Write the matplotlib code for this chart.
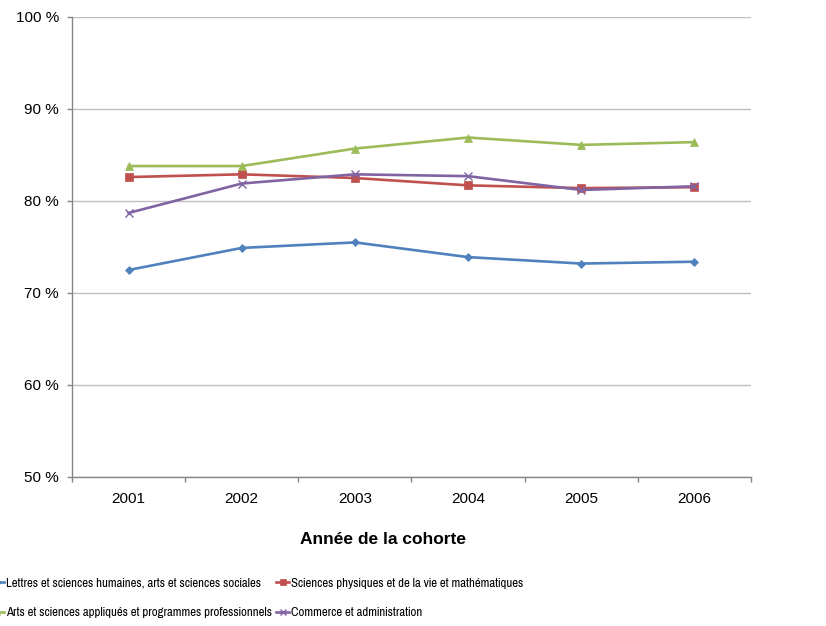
import matplotlib
matplotlib.use("Agg")
import matplotlib.pyplot as plt
from matplotlib.ticker import FixedLocator, FuncFormatter

plt.rcParams['font.family'] = ['Liberation Sans', 'DejaVu Sans']

years = ["2001", "2002", "2003", "2004", "2005", "2006"]

lettres = [72.5, 74.9, 75.5, 73.9, 73.2, 73.4]
sciences = [82.6, 82.9, 82.5, 81.7, 81.4, 81.5]
arts_appliques = [83.8, 83.8, 85.7, 86.9, 86.1, 86.4]
commerce = [78.7, 81.9, 82.9, 82.7, 81.2, 81.6]

labels = [
    "Lettres et sciences humaines, arts et sciences sociales",
    "Sciences physiques et de la vie et mathématiques",
    "Arts et sciences appliqués et programmes professionnels",
    "Commerce et administration",
]
colors = ["#4F81BD", "#C0504D", "#9BBB59", "#8064A2"]
markers = ["D", "s", "^", "x"]
msizes = [4.5, 5.5, 6, 6]

fig = plt.figure(figsize=(8.26, 6.26), dpi=100)
ax = fig.add_axes([72 / 826, 1 - 477 / 626, (751 - 72) / 826, (477 - 17) / 626])

x = list(range(len(years)))
series = [lettres, sciences, arts_appliques, commerce]
handles = []
for vals, c, m, ms, lab in zip(series, colors, markers, msizes, labels):
    h, = ax.plot(x, vals, color=c, marker=m, markersize=ms, linewidth=1.9,
                 markeredgewidth=1.0 if m == "x" else 0.5, label=lab, zorder=3)
    handles.append(h)

ax.set_xlim(-0.5, len(years) - 0.5)
ax.set_ylim(50, 100)
ax.set_yticks(range(50, 101, 10))
ax.yaxis.set_major_formatter(FuncFormatter(lambda v, p: f"{int(v)} %"))
ax.grid(axis='y', color='#BFBFBF', linewidth=1.0)
ax.set_axisbelow(True)

# category labels sit between the boundary ticks
ax.xaxis.set_major_locator(FixedLocator([i - 0.5 for i in range(len(years) + 1)]))
ax.xaxis.set_minor_locator(FixedLocator(x))
ax.set_xticklabels([])
ax.set_xticklabels(years, minor=True)
ax.tick_params(axis='x', which='major', length=3.5, color='#868686', width=1.0)
ax.tick_params(axis='x', which='minor', length=0, pad=11, labelsize=11)
ax.tick_params(axis='y', length=3.5, color='#868686', width=1.0, pad=6, labelsize=11)

for s in ['top', 'right']:
    ax.spines[s].set_visible(False)
for s in ['left', 'bottom']:
    ax.spines[s].set_color('#868686')
    ax.spines[s].set_linewidth(1.0)

fig.text(383 / 826, 1 - 540 / 626, "Année de la cohorte", ha='center', va='center',
         fontsize=12.5, fontweight='bold')

order = [0, 2, 1, 3]
fig.legend([handles[i] for i in order], [labels[i] for i in order],
           loc='upper left', bbox_to_anchor=(-9 / 826, 1 - 577 / 626),
           ncol=2, frameon=False, prop={'family': ['Pragati Narrow', 'DejaVu Sans'], 'size': 10},
           handlelength=0.9, handletextpad=0.15, columnspacing=0.35, labelspacing=1.3,
           borderpad=0, borderaxespad=0, markerscale=0.8)

fig.savefig("out.png", dpi=100)
